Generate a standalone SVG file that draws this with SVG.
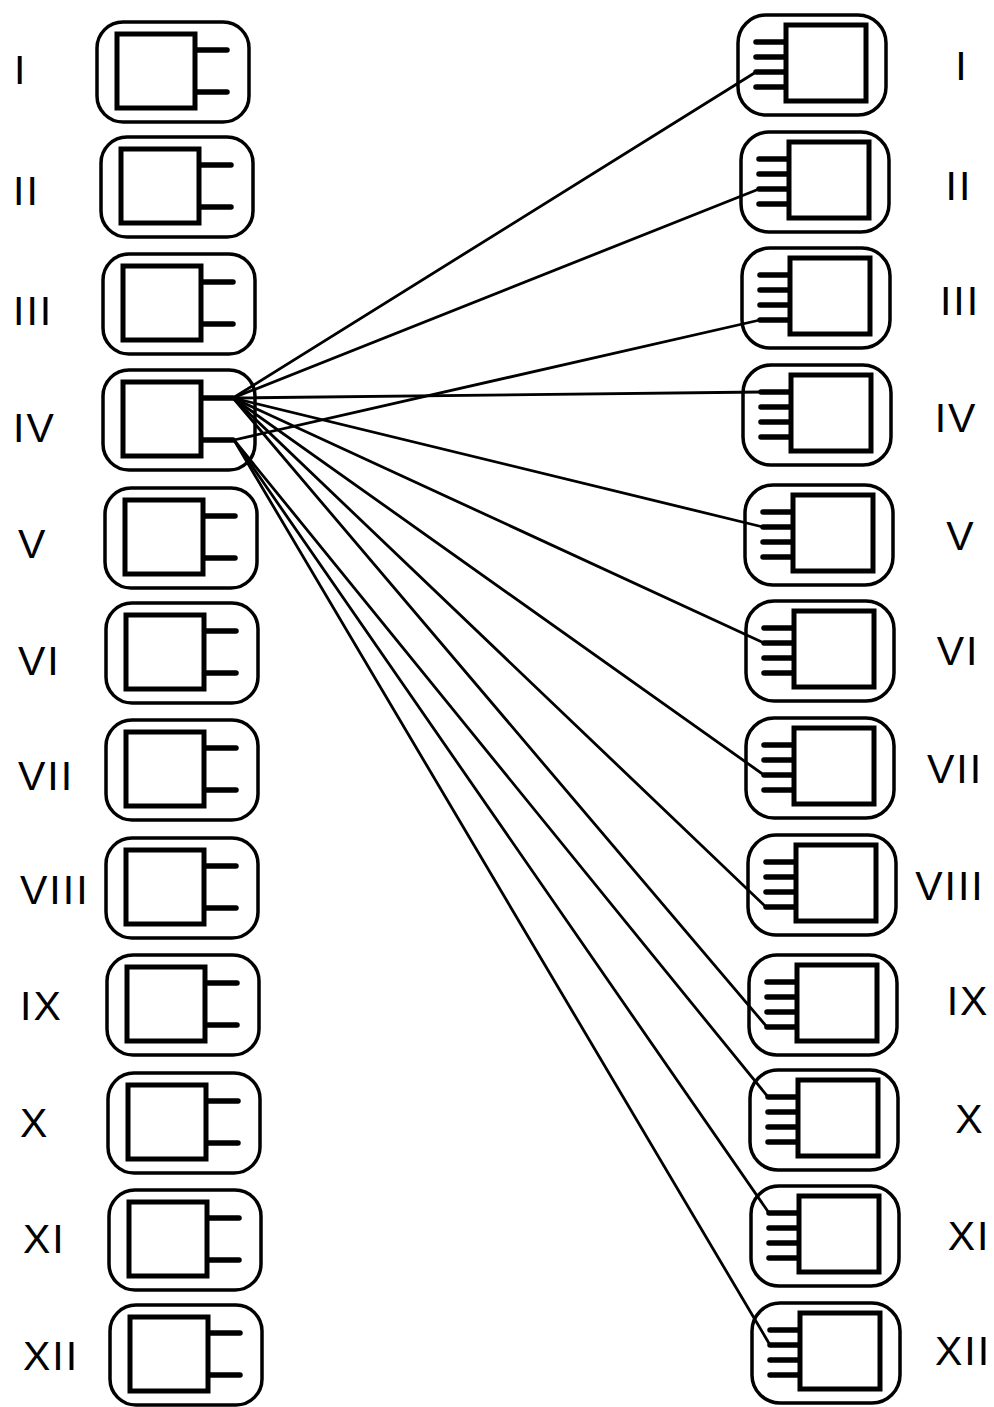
<svg xmlns="http://www.w3.org/2000/svg" xmlns:xlink="http://www.w3.org/1999/xlink" width="994" height="1407" viewBox="0 0 994 1407">
<style>
.outer{fill:none;stroke:#000;stroke-width:3.5}
.inner{fill:#fff;stroke:#000;stroke-width:5}
.pin{stroke:#000;stroke-width:5.5;stroke-linecap:round}
.lbl{font-family:"Liberation Sans",Arial,sans-serif;font-size:41px;fill:#000;letter-spacing:2px}
.con{stroke:#000;stroke-width:2.8;fill:none;stroke-linecap:round}
</style>
<defs>
<g id="L">
<rect class="outer" x="0" y="0" width="152" height="100" rx="26"/>
<line class="pin" x1="98" y1="28" x2="130" y2="28"/>
<line class="pin" x1="98" y1="70" x2="130" y2="70"/>
<rect class="inner" x="20" y="12" width="78" height="74"/>
</g>
<g id="R">
<rect class="outer" x="0" y="0" width="148" height="100" rx="28"/>
<line class="pin" x1="18" y1="27" x2="48" y2="27"/>
<line class="pin" x1="18" y1="42" x2="48" y2="42"/>
<line class="pin" x1="18" y1="57" x2="48" y2="57"/>
<line class="pin" x1="18" y1="72" x2="48" y2="72"/>
<rect class="inner" x="48" y="10" width="80" height="76"/>
</g>
</defs>
<rect width="994" height="1407" fill="#fff"/>
<g id="left-nodes">
<g id="L1"><use xlink:href="#L" x="97" y="22"/><text class="lbl" x="14" y="84">I</text></g>
<g id="L2"><use xlink:href="#L" x="101" y="137"/><text class="lbl" x="13" y="205">II</text></g>
<g id="L3"><use xlink:href="#L" x="103" y="254"/><text class="lbl" x="13" y="325">III</text></g>
<g id="L4"><use xlink:href="#L" x="103" y="370"/><text class="lbl" x="13" y="442">IV</text></g>
<g id="L5"><use xlink:href="#L" x="105" y="488"/><text class="lbl" x="18" y="558">V</text></g>
<g id="L6"><use xlink:href="#L" x="106" y="603"/><text class="lbl" x="18" y="675">VI</text></g>
<g id="L7"><use xlink:href="#L" x="106" y="720"/><text class="lbl" x="18" y="790">VII</text></g>
<g id="L8"><use xlink:href="#L" x="106" y="838"/><text class="lbl" x="20" y="904">VIII</text></g>
<g id="L9"><use xlink:href="#L" x="107" y="955"/><text class="lbl" x="20" y="1020">IX</text></g>
<g id="L10"><use xlink:href="#L" x="108" y="1073"/><text class="lbl" x="20" y="1137">X</text></g>
<g id="L11"><use xlink:href="#L" x="109" y="1190"/><text class="lbl" x="23" y="1253">XI</text></g>
<g id="L12"><use xlink:href="#L" x="110" y="1305"/><text class="lbl" x="23" y="1370">XII</text></g>
</g>
<g id="right-nodes">
<g id="R1"><use xlink:href="#R" x="738" y="15"/><text class="lbl" x="962" y="80" text-anchor="middle">I</text></g>
<g id="R2"><use xlink:href="#R" x="741" y="132"/><text class="lbl" x="959" y="200" text-anchor="middle">II</text></g>
<g id="R3"><use xlink:href="#R" x="742" y="248"/><text class="lbl" x="960" y="315" text-anchor="middle">III</text></g>
<g id="R4"><use xlink:href="#R" x="743" y="365"/><text class="lbl" x="956" y="432" text-anchor="middle">IV</text></g>
<g id="R5"><use xlink:href="#R" x="745" y="485"/><text class="lbl" x="961" y="550" text-anchor="middle">V</text></g>
<g id="R6"><use xlink:href="#R" x="746" y="601"/><text class="lbl" x="958" y="665" text-anchor="middle">VI</text></g>
<g id="R7"><use xlink:href="#R" x="746" y="718"/><text class="lbl" x="955" y="783" text-anchor="middle">VII</text></g>
<g id="R8"><use xlink:href="#R" x="748" y="835"/><text class="lbl" x="950" y="900" text-anchor="middle">VIII</text></g>
<g id="R9"><use xlink:href="#R" x="749" y="955"/><text class="lbl" x="968" y="1015" text-anchor="middle">IX</text></g>
<g id="R10"><use xlink:href="#R" x="750" y="1070"/><text class="lbl" x="970" y="1133" text-anchor="middle">X</text></g>
<g id="R11"><use xlink:href="#R" x="751" y="1186"/><text class="lbl" x="969" y="1250" text-anchor="middle">XI</text></g>
<g id="R12"><use xlink:href="#R" x="752" y="1303"/><text class="lbl" x="963" y="1365" text-anchor="middle">XII</text></g>
</g>
<g id="connectors">
<line class="con" x1="233" y1="398" x2="756" y2="72"/>
<line class="con" x1="233" y1="398" x2="759" y2="189"/>
<line class="con" x1="234" y1="440" x2="760" y2="320"/>
<line class="con" x1="233" y1="398" x2="761" y2="392"/>
<line class="con" x1="233" y1="398" x2="763" y2="527"/>
<line class="con" x1="233" y1="398" x2="764" y2="643"/>
<line class="con" x1="233" y1="398" x2="764" y2="775"/>
<line class="con" x1="233" y1="398" x2="766" y2="907"/>
<line class="con" x1="233" y1="398" x2="767" y2="1027"/>
<line class="con" x1="234" y1="440" x2="768" y2="1097"/>
<line class="con" x1="234" y1="440" x2="769" y2="1213"/>
<line class="con" x1="234" y1="440" x2="770" y2="1345"/>
</g>
</svg>
